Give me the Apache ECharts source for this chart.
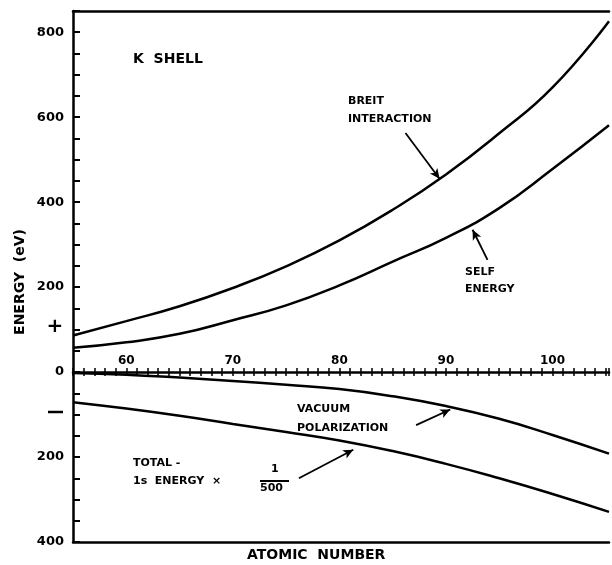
<!DOCTYPE html>
<html>
<head>
<meta charset="utf-8">
<script src="https://cdn.jsdelivr.net/npm/echarts@6/dist/echarts.min.js"></script>
<style>html,body{margin:0;padding:0;background:#fff}#c{width:612px;height:565px}</style>
</head>
<body>
<div id="c"></div>
<script>
// Atomic number samples
const atomicNumber = [55, 60, 65, 70, 75, 80, 85, 90, 95, 100, 105.3];
// Energies in eV (lower half shown as magnitudes on axis)
const breitInteraction = [86, 120, 155, 198, 249, 310, 382, 465, 562, 670, 826];
const selfEnergy = [57, 70, 90, 122, 157, 204, 260, 316, 386, 478, 581];
const vacuumPolarization = [-2, -6, -13, -21, -30, -40, -57, -80, -110, -148, -192];
const totalEnergyScaled = [-71, -86, -103, -122, -141, -161, -186, -216, -250, -287, -329];
const xTickLabels = [60, 70, 80, 90, 100];
const yTickValues = [-400, -200, 0, 200, 400, 600, 800];

const FONT = 'DejaVu Sans';
const pair = (xs, ys) => xs.map((x, i) => [x, ys[i]]);
const lineStyle = { color: '#000', width: 2.5 };
const Y_MIN = -400, Y_MAX = 850, GRID_TOP = 11, GRID_BOTTOM = 23, H = 565;
// offset that moves a top-positioned axis down to y = 0
const zeroOffset = -((H - GRID_TOP - GRID_BOTTOM) * Y_MAX / (Y_MAX - Y_MIN));

const chart = echarts.init(document.getElementById('c'));

const baseX = {
  type: 'value', min: 55, max: 105.3, interval: 5, splitLine: { show: false }
};

function arrow(from, to) {
  return {
    symbol: ['none', 'arrow'], symbolSize: [7, 10],
    lineStyle: { color: '#000', width: 1.8, type: 'solid' },
    label: { show: false },
    data: [[{ coord: from }, { coord: to }]]
  };
}

function curve(name, ys, ml) {
  return { name, type: 'line', smooth: 0.5, symbol: 'none', lineStyle,
    data: pair(atomicNumber, ys), markLine: ml };
}

chart.setOption({
  animation: false,
  backgroundColor: '#fff',
  grid: { left: 73, right: 0, top: GRID_TOP, bottom: GRID_BOTTOM },
  xAxis: [
    Object.assign({}, baseX, {
      position: 'top', offset: zeroOffset,
      axisLine: { onZero: false, lineStyle: { color: '#000', width: 2.5 } },
      axisTick: { inside: false, length: 4, lineStyle: { color: '#000', width: 1.5 } },
      minorTick: { show: true, splitNumber: 5, length: 4, lineStyle: { color: '#000', width: 1.5 } },
      axisLabel: {
        margin: 5, color: '#000', fontFamily: FONT, fontWeight: 'bold', fontSize: 12,
        formatter: v => xTickLabels.includes(v) ? String(v) : ''
      }
    }),
    Object.assign({}, baseX, {
      position: 'top', offset: zeroOffset,
      axisLine: { show: false, onZero: false },
      axisTick: { inside: true, length: 4, lineStyle: { color: '#000', width: 1.5 } },
      minorTick: { show: true, splitNumber: 5, length: 4, lineStyle: { color: '#000', width: 1.5 } },
      axisLabel: { show: false }
    }),
    Object.assign({}, baseX, {
      position: 'top',
      axisLine: { onZero: false, lineStyle: { color: '#000', width: 2.5 } },
      axisTick: { show: false }, axisLabel: { show: false }
    }),
    Object.assign({}, baseX, {
      position: 'bottom',
      axisLine: { onZero: false, lineStyle: { color: '#000', width: 2.5 } },
      axisTick: { show: false }, axisLabel: { show: false }
    })
  ],
  yAxis: {
    type: 'value', min: Y_MIN, max: Y_MAX, interval: 200,
    splitLine: { show: false },
    axisLine: { show: true, onZero: false, lineStyle: { color: '#000', width: 2.5 } },
    axisTick: { inside: true, length: 7, lineStyle: { color: '#000', width: 2 } },
    minorTick: { show: true, splitNumber: 4, length: 7, lineStyle: { color: '#000', width: 2 } },
    axisLabel: {
      margin: 9, color: '#000', fontFamily: FONT, fontWeight: 'bold', fontSize: 13,
      showMaxLabel: false,
      formatter: v => yTickValues.includes(v) ? String(Math.abs(v)) : ''
    }
  },
  series: [
    curve('Breit interaction', breitInteraction, arrow([86.2, 563], [89.4, 455])),
    curve('Self energy', selfEnergy, arrow([93.9, 264], [92.5, 335])),
    curve('Vacuum polarization', vacuumPolarization, arrow([87.2, -125], [90.4, -88])),
    curve('Total 1s energy x 1/500', totalEnergyScaled, arrow([76.2, -250], [81.3, -183]))
  ],
  graphic: [
    { type: 'text', left: 133, top: 52, style: { text: 'K  SHELL', font: 'bold 14px ' + FONT, fill: '#000' } },
    { type: 'text', left: 348, top: 92, style: { text: 'BREIT\nINTERACTION', font: 'bold 11px ' + FONT, lineHeight: 18, fill: '#000' } },
    { type: 'text', left: 465, top: 264, style: { text: 'SELF\nENERGY', font: 'bold 11px ' + FONT, lineHeight: 17, fill: '#000' } },
    { type: 'text', left: 297, top: 400, style: { text: 'VACUUM\nPOLARIZATION', font: 'bold 11px ' + FONT, lineHeight: 19, fill: '#000' } },
    { type: 'text', left: 133, top: 454, style: { text: 'TOTAL -\n1s  ENERGY  ×', font: 'bold 11px ' + FONT, lineHeight: 18, fill: '#000' } },
    { type: 'text', left: 271, top: 464, style: { text: '1', font: 'bold 11px ' + FONT, fill: '#000' } },
    { type: 'line', shape: { x1: 260, y1: 481, x2: 289, y2: 481 }, style: { stroke: '#000', lineWidth: 2 } },
    { type: 'text', left: 260, top: 483, style: { text: '500', font: 'bold 11px ' + FONT, fill: '#000' } },
    { type: 'text', left: 247, top: 548, style: { text: 'ATOMIC  NUMBER', font: 'bold 14px ' + FONT, fill: '#000' } },
    { type: 'text', x: 20, y: 282, rotation: Math.PI / 2, style: { text: 'ENERGY  (eV)', font: 'bold 14px ' + FONT, fill: '#000', align: 'center', verticalAlign: 'middle' } },
    { type: 'text', x: 55, y: 327, style: { text: '+', font: 'bold 20px ' + FONT, fill: '#000', align: 'center', verticalAlign: 'middle' } },
    { type: 'line', shape: { x1: 48, y1: 412, x2: 63, y2: 412 }, style: { stroke: '#000', lineWidth: 2.5 } }
  ]
});
</script>
</body>
</html>
